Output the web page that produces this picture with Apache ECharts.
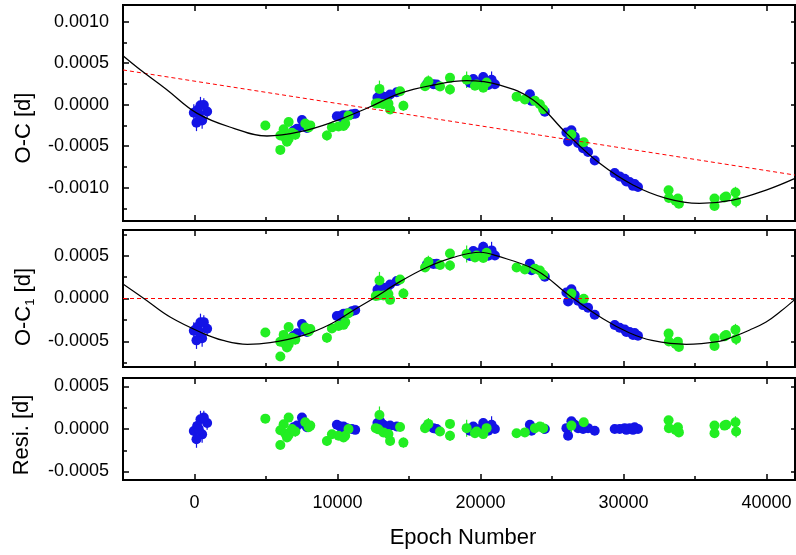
<!DOCTYPE html>
<html>
<head>
<meta charset="utf-8">
<script src="https://cdn.jsdelivr.net/npm/echarts@6/dist/echarts.min.js"></script>
<style>
html,body{margin:0;padding:0;background:#fff;}
#c{width:796px;height:555px;}
</style>
</head>
<body>
<div id="c"></div>
<script>
// ---------------- data ----------------
const xMajorTicks = [0, 10000, 20000, 30000, 40000];
const xMinorTicks = [5000, 15000, 25000, 35000];
const y1MajorTicks = [-0.001, -0.0005, 0, 0.0005, 0.001];
const y1MinorTicks = [-0.00125, -0.00075, -0.00025, 0.00025, 0.00075];
const y2MajorTicks = [-0.0005, 0, 0.0005];
const y2MinorTicks = [-0.00075, -0.00025, 0.00025, 0.00075];
const y3MajorTicks = [-0.0005, 0, 0.0005];
const y3MinorTicks = [-0.00025, 0.00025];

// fitted curve, O-C panel
const fit1Epoch = [-5000, -3770, -2000, 190, 2745, 5070, 7400, 9725, 12055, 14380, 16705, 19035, 21360, 23690, 26015, 28340, 30670, 33000, 35320, 37650, 39980, 42000];
const fit1Value = [0.00059, 0.000418, 0.00019, -0.000104, -0.000284, -0.000377, -0.000325, -0.000205, -0.000043, 0.000137, 0.000237, 0.00029, 0.000237, 0.000057, -0.000345, -0.000706, -0.000967, -0.001128, -0.001188, -0.001148, -0.001028, -0.000887];
// linear ephemeris correction (red dashed, O-C panel)
const linEpoch = [-5000, 42000];
const linValue = [0.000418, -0.000847];
// fitted curve, O-C1 panel
const fit2Epoch = [-5000, -3540, -1675, 650, 2000, 3700, 5300, 7600, 9500, 11100, 12500, 14400, 16200, 18100, 20000, 21100, 23900, 26250, 28600, 30400, 32000, 34400, 36700, 37630, 38800, 39980, 41000, 42000];
const fit2Value = [0.00017, 0, -0.00022, -0.00041, -0.00049, -0.000535, -0.000515, -0.00043, -0.0003, -0.00014, 0, 0.0002, 0.00036, 0.00048, 0.00054, 0.0005, 0.00033, 0.00003, -0.00024, -0.0004, -0.00049, -0.000535, -0.0005, -0.00045, -0.00037, -0.000275, -0.00015, -0.00001];
const zeroEpoch = [-5000, 42000];
const zeroValue = [0, 0];

// blue data set
const blueEpoch = [419, 186, 884, -47, 535, 140, 303, 652,
  7518, 7168, 6935, 7634, 7867,
  9960, 10308, 10657, 11006, 11239, 10425, 10192,
  12798, 13216, 13681, 14146, 13449, 12983,
  16707, 16242, 16940,
  19500, 20197, 19965, 20546, 20779, 21011, 19267,
  23458, 23574, 24505,
  26130, 26014, 26363, 26828, 27526, 27992, 26595, 27177,
  29389, 29738, 30087, 30436, 30785, 31018, 30203, 30669];
const blueOC = [-0.000006, -0.000068, -0.000083, -0.000096, -0.000191, -0.000218, -0.000116, -0.000003,
  -0.000185, -0.00029, -0.000315, -0.000253, -0.000281,
  -0.000139, -0.000154, -0.00013, -0.000116, -0.00011, -0.000126, -0.000143,
  0.000085, 0.000097, 0.000123, 0.000149, 0.000085, 0.000119,
  0.000247, 0.000247, 0.000242,
  0.000309, 0.000334, 0.000269, 0.000236, 0.0003, 0.000245, 0.000265,
  0.000125, 0.000046, -0.000084,
  -0.000443, -0.000335, -0.000309, -0.000461, -0.000569, -0.000671, -0.000385, -0.000525,
  -0.000823, -0.000863, -0.000892, -0.000931, -0.000955, -0.000991, -0.000925, -0.000977];
const blueOC1 = [-0.000277, -0.000337, -0.000354, -0.000377, -0.000464, -0.000489, -0.000386, -0.000276,
  -0.000299, -0.000406, -0.000435, -0.000368, -0.000392,
  -0.000204, -0.000209, -0.000174, -0.000149, -0.000136, -0.000178, -0.000201,
  0.000101, 0.000125, 0.000164, 0.000203, 0.00012, 0.000141,
  0.000402, 0.000393, 0.000407,
  0.000554, 0.000603, 0.000539, 0.0005, 0.000562, 0.000503, 0.000497,
  0.000407, 0.00033, 0.000253,
  -0.000035, 0.00007, 0.000107, -0.000026, -0.000107, -0.00019, 0.00004, -0.000077,
  -0.00031, -0.000341, -0.000362, -0.000392, -0.000402, -0.000435, -0.000392, -0.000425];
const blueResi = [0.000114, 0.000035, 0.00007, -0.000024, -0.000063, -0.000121, -0.000004, 0.000134,
  0.000134, 0.00004, 0.00002, 0.00006, 0.00002,
  0.00005, 0.00001, 0.00001, 0, -0.00001, 0.00003, 0.00003,
  0.00007, 0.00005, 0.00004, 0.00003, 0.00002, 0.00009,
  0.00001, 0.00003, 0,
  0.00003, 0.00007, 0, -0.00002, 0.00005, 0, -0.00002,
  0.00005, -0.00002, 0,
  -0.00008, 0.00001, 0.00009, 0.00001, 0.00001, -0.00002, 0.00005, 0,
  0, 0, 0.00001, 0.00001, 0.00002, 0, -0.00001, -0.00001];
const blueErr = [0.0001, 0.00009, 0.00008, 0.0001, 0.0001, 0.0001, 0.00009, 0.00008,
  0.00003, 0.00004, 0.00003, 0.00003, 0.00003,
  0.00003, 0.00003, 0.00003, 0.00002, 0.00002, 0.00003, 0.00003,
  0.00004, 0.00003, 0.00003, 0.00003, 0.00004, 0.00003,
  0.00004, 0.00003, 0.00003,
  0.00005, 0.00006, 0.00004, 0.00004, 0.0001, 0.00003, 0.00004,
  0.00003, 0.00003, 0.00003,
  0.00003, 0.00003, 0.00004, 0.00003, 0.00002, 0.00002, 0.00003, 0.00002,
  0.00002, 0.00002, 0.00002, 0.00002, 0.00002, 0.00002, 0.00002, 0.00002];

// green data set
const greenEpoch = [4956,
  6585, 6237, 6004, 6353, 6004, 6585, 6818, 6469, 7983, 7750, 8100, 7052,
  9262, 9611, 10076, 10541, 10773, 10425,
  12937, 12867, 13216, 13681, 14612, 14379, 13565, 12681,
  16126, 16358, 17172, 17870, 17870,
  19035, 19732, 20197, 20430, 19616,
  22527, 23109, 23807, 24389, 24156,
  26363, 27224,
  33159, 33182, 33810, 33880, 33647,
  36370, 36370, 37068, 37836, 37882, 37184];
const greenOC = [-0.00025,
  -0.000209, -0.000296, -0.000371, -0.000402, -0.000544, -0.000413, -0.000338, -0.000446, -0.000275, -0.000227, -0.000249, -0.000362,
  -0.00037, -0.000273, -0.000261, -0.000228, -0.000132, -0.000256,
  0.00019, 0.000016, 0.000007, -0.000057, -0.000013, 0.000161, 0.000014, 0.000015,
  0.000222, 0.000282, 0.000218, 0.000323, 0.000183,
  0.0003, 0.000244, 0.000204, 0.000268, 0.000227,
  0.000097, 0.000062, 0.000047, -0.000054, 0.000006,
  -0.000359, -0.000452,
  -0.00103, -0.001123, -0.001129, -0.001191, -0.001155,
  -0.00113, -0.00122, -0.001118, -0.001058, -0.001166, -0.001106];
const greenOC1 = [-0.000397,
  -0.000333, -0.000425, -0.000504, -0.00053, -0.000677, -0.000537, -0.000459, -0.000572, -0.000384, -0.00034, -0.000356, -0.00048,
  -0.000457, -0.000351, -0.000322, -0.000276, -0.000173, -0.000308,
  0.000211, 0.000035, 0.000035, -0.000016, 0.000059, 0.000222, 0.000052, 0.000029,
  0.000363, 0.00043, 0.000391, 0.000525, 0.000385,
  0.00052, 0.000502, 0.000473, 0.000534, 0.000478,
  0.000363, 0.000338, 0.000346, 0.000277, 0.000327,
  0.000057, -0.000002,
  -0.00041, -0.000502, -0.000504, -0.000565, -0.000531,
  -0.000465, -0.000555, -0.000442, -0.000366, -0.000473, -0.000427];
const greenResi = [0.000122,
  0.000134, 0.000055, -0.000015, -0.000054, -0.000188, -0.00007, 0, -0.0001, 0.00002, 0.00008, 0.00004, -0.00003,
  -0.000141, -0.000062, -0.00008, -0.00008, 0, -0.0001,
  0.000165, -0.000004, -0.00004, -0.00014, -0.00016, 0.000024, -0.00006, 0.00001,
  0.00001, 0.00006, -0.00003, 0.00006, -0.00008,
  0.00001, -0.00003, -0.00006, 0.00001, -0.00005,
  -0.00005, -0.00004, 0.00001, 0.00001, 0.00003,
  0.00004, 0.00008,
  0.000102, 0.00001, 0.00002, -0.00004, -0.00001,
  0.00004, -0.00005, 0.00004, 0.00008, -0.00003, 0.00005];
const greenErr = [0.00002,
  0.00003, 0.00004, 0.00004, 0.00005, 0.00003, 0.00005, 0.00004, 0.00005, 0.00004, 0.00003, 0.00003, 0.00006,
  0.00006, 0.00005, 0.00005, 0.00007, 0.00004, 0.00005,
  0.0001, 0.00005, 0.00005, 0.00005, 0.00006, 0.00005, 0.00006, 0.00003,
  0.00004, 0.00007, 0.00004, 0.00005, 0.00006,
  0.0001, 0.00006, 0.00005, 0.00004, 0.00004,
  0.00003, 0.00003, 0.00004, 0.00007, 0.00003,
  0.00008, 0.00003,
  0.00003, 0.00003, 0.00003, 0.00003, 0.00003,
  0.00004, 0.00003, 0.00005, 0.00007, 0.00007, 0.00004];

// ---------------- chart ----------------
const FONT = 'Liberation Sans, Arial, sans-serif';
const BLUE = '#1414e6';
const GREEN = '#22ee22';
const chart = echarts.init(document.getElementById('c'), null, {renderer: 'canvas'});

const grids = [
  {left: 123, right: 1, top: 5, height: 216},
  {left: 123, right: 1, top: 230, height: 137},
  {left: 123, right: 1, top: 378, height: 102}
];
const yRanges = [[-0.0014, 0.0012], [-0.0008, 0.0008], [-0.0006, 0.0006]];
const yMaj = [y1MajorTicks, y2MajorTicks, y3MajorTicks];
const yMin = [y1MinorTicks, y2MinorTicks, y3MinorTicks];

const xAxes = [], yAxes = [];
const tickStyle = {color: '#000', width: 1.5};
function xAx(g, pos, ticks, len, labels) {
  return {
    gridIndex: g, type: 'value', min: -5000, max: 42000, position: pos,
    axisLine: {show: false, onZero: false},
    splitLine: {show: false},
    axisTick: {show: true, inside: true, length: len, customValues: ticks, lineStyle: tickStyle},
    axisLabel: labels ? {show: true, customValues: xMajorTicks, formatter: v => String(Math.round(v)),
      fontSize: 18, color: '#000', fontFamily: FONT, margin: 14} : {show: false}
  };
}
function yAx(g, pos, ticks, len, labels) {
  return {
    gridIndex: g, type: 'value', min: yRanges[g][0], max: yRanges[g][1], position: pos,
    axisLine: {show: false, onZero: false},
    splitLine: {show: false},
    axisTick: {show: true, inside: true, length: len, customValues: ticks, lineStyle: tickStyle},
    axisLabel: labels ? {show: true, customValues: yMaj[g], formatter: v => v.toFixed(4),
      fontSize: 18, color: '#000', fontFamily: FONT, margin: 14} : {show: false}
  };
}
for (let g = 0; g < 3; g++) {
  xAxes.push(xAx(g, 'bottom', xMajorTicks, 6, g === 2));
  xAxes.push(xAx(g, 'bottom', xMinorTicks, 4, false));
  xAxes.push(xAx(g, 'top', xMajorTicks, 6, false));
  xAxes.push(xAx(g, 'top', xMinorTicks, 4, false));
  yAxes.push(yAx(g, 'left', yMaj[g], 6, true));
  yAxes.push(yAx(g, 'left', yMin[g], 4, false));
  yAxes.push(yAx(g, 'right', yMaj[g], 4, false));
}

const zip = (a, b) => a.map((v, i) => [v, b[i]]);
const zip3 = (a, b, c) => a.map((v, i) => [v, b[i], c[i]]);

function errSeries(g, data, color) {
  return {
    type: 'custom', xAxisIndex: 4 * g, yAxisIndex: 3 * g, clip: true,
    encode: {x: 0, y: 1},
    renderItem: function (params, api) {
      const x = api.value(0), y = api.value(1), e = api.value(2);
      const p1 = api.coord([x, y + e]);
      const p2 = api.coord([x, y - e]);
      return {type: 'line', shape: {x1: p1[0], y1: p1[1], x2: p2[0], y2: p2[1]},
        style: {stroke: color, lineWidth: 1.2}};
    },
    data: data, silent: true
  };
}
function scat(g, data, color) {
  return {
    type: 'scatter', xAxisIndex: 4 * g, yAxisIndex: 3 * g, data: data,
    symbol: 'circle', symbolSize: 10, itemStyle: {color: color, opacity: 1}, silent: true
  };
}
function line(g, data, color, width, dashed, smooth) {
  return {
    type: 'line', xAxisIndex: 4 * g, yAxisIndex: 3 * g, data: data, showSymbol: false,
    symbol: 'none', smooth: smooth, clip: true, silent: true,
    lineStyle: {color: color, width: width, type: dashed ? [4, 3] : 'solid'}
  };
}

const series = [
  // panel 1: O-C
  line(0, zip(linEpoch, linValue), '#ff0000', 1, true, false),
  line(0, zip(fit1Epoch, fit1Value), '#000', 1.3, false, 0.4),
  errSeries(0, zip3(blueEpoch, blueOC, blueErr), BLUE),
  scat(0, zip(blueEpoch, blueOC), BLUE),
  errSeries(0, zip3(greenEpoch, greenOC, greenErr), GREEN),
  scat(0, zip(greenEpoch, greenOC), GREEN),
  // panel 2: O-C1
  line(1, zip(zeroEpoch, zeroValue), '#ff0000', 1, true, false),
  line(1, zip(fit2Epoch, fit2Value), '#000', 1.2, false, 0.4),
  errSeries(1, zip3(blueEpoch, blueOC1, blueErr), BLUE),
  scat(1, zip(blueEpoch, blueOC1), BLUE),
  errSeries(1, zip3(greenEpoch, greenOC1, greenErr), GREEN),
  scat(1, zip(greenEpoch, greenOC1), GREEN),
  // panel 3: residuals
  errSeries(2, zip3(blueEpoch, blueResi, blueErr), BLUE),
  scat(2, zip(blueEpoch, blueResi), BLUE),
  errSeries(2, zip3(greenEpoch, greenResi, greenErr), GREEN),
  scat(2, zip(greenEpoch, greenResi), GREEN)
];

chart.setOption({
  animation: false,
  backgroundColor: '#fff',
  grid: grids.map(g => Object.assign({show: true, borderColor: '#000', borderWidth: 2,
    backgroundColor: 'transparent', containLabel: false, outerBoundsMode: 'none'}, g)),
  xAxis: xAxes,
  yAxis: yAxes,
  series: series,
  graphic: [
    {type: 'text', x: 24, y: 128, rotation: Math.PI / 2,
      style: {text: 'O-C [d]', font: '22px ' + FONT, fill: '#000', align: 'center', verticalAlign: 'middle'}},
    {type: 'text', x: 24, y: 307, rotation: Math.PI / 2,
      style: {text: 'O-C{s|1} [d]', font: '22px ' + FONT, fill: '#000', align: 'center', verticalAlign: 'middle',
        rich: {s: {fontSize: 13, fontFamily: FONT, fill: '#000', padding: [12, 0, 0, 0]}}}},
    {type: 'text', x: 22, y: 435, rotation: Math.PI / 2,
      style: {text: 'Resi. [d]', font: '22px ' + FONT, fill: '#000', align: 'center', verticalAlign: 'middle'}},
    {type: 'text', x: 463, y: 538,
      style: {text: 'Epoch Number', font: '22px ' + FONT, fill: '#000', align: 'center', verticalAlign: 'middle'}}
  ]
});
</script>
</body>
</html>
